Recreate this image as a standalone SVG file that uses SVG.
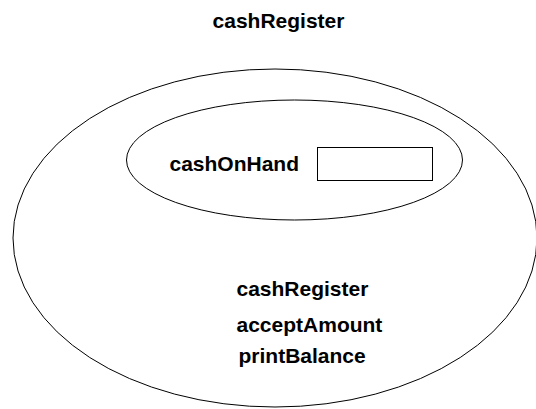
<svg xmlns="http://www.w3.org/2000/svg" width="536" height="409" viewBox="0 0 536 409">
  <style>
    .shape { fill: none; stroke: #000; stroke-width: 1; }
    .label { font-family: "Liberation Sans", Arial, sans-serif; font-weight: bold; font-size: 21px; fill: #000; }
  </style>
  <rect width="536" height="409" fill="#fff"/>
  <g id="title">
    <text class="label" x="278.5" y="28" text-anchor="middle">cashRegister</text>
  </g>
  <g id="cashRegister">
    <ellipse class="shape" cx="275" cy="238" rx="262" ry="169"/>
    <text class="label" x="236.5" y="296">cashRegister</text>
    <text class="label" x="236.5" y="332">acceptAmount</text>
    <text class="label" x="238.5" y="363">printBalance</text>
  </g>
  <g id="cashOnHand">
    <ellipse class="shape" cx="294.5" cy="160" rx="168" ry="60"/>
    <text class="label" x="169.5" y="171">cashOnHand</text>
    <rect class="shape" x="317.5" y="147.5" width="115" height="33"/>
  </g>
  <g id="connectors"/>
</svg>
